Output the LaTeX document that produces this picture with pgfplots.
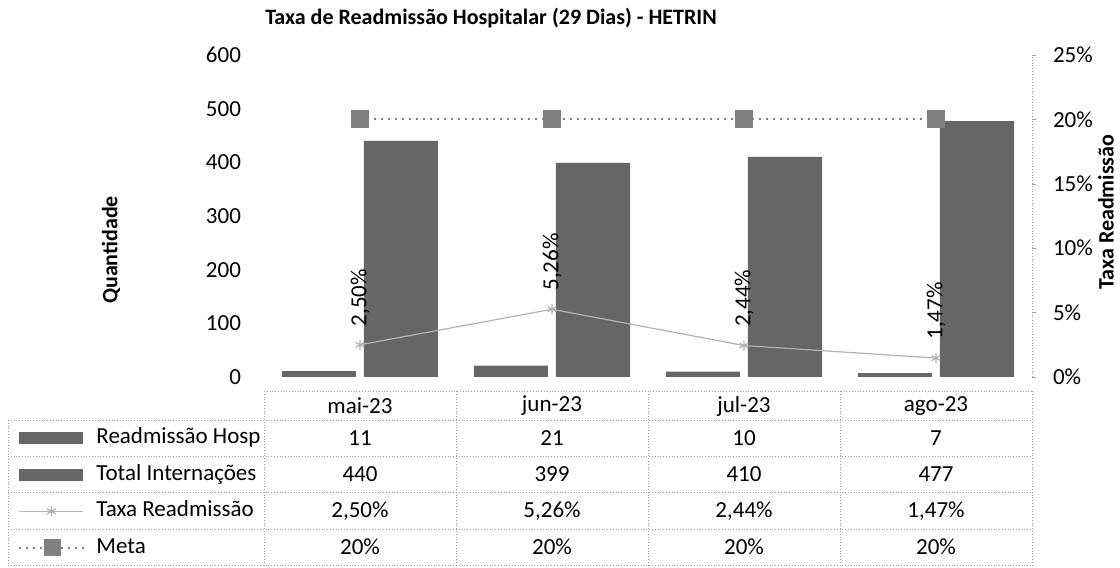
\documentclass[border=0pt]{standalone}
\usepackage{fontspec}
\setmainfont{Carlito}
\usepackage{pgfplots}
\pgfplotsset{compat=1.18}

\definecolor{barfill}{gray}{0.40}
\definecolor{markfill}{gray}{0.50}
\definecolor{gridgray}{gray}{0.62}

\begin{document}
\begin{tikzpicture}
\useasboundingbox (0,0) rectangle (560pt,284pt);

% bars on the left axis
\begin{axis}[at={(132pt,95.5pt)}, anchor=south west, width=384pt, height=161pt, scale only axis,
  xmin=-0.5, xmax=3.5, ymin=0, ymax=600, ytick={0,100,...,600},
  axis x line=none, axis y line*=left, y axis line style={draw=none}, ytick style={draw=none},
  /pgf/number format/assume math mode=true,
  yticklabel style={font=\fontsize{11.5}{13}\selectfont, xshift=-8pt},
  ybar=4pt, bar width=37pt,
  legend cell align=left,
  legend style={at={(axis description cs:-0.3203,-0.1537)}, anchor=north west, draw=none, fill=none,
    inner sep=0pt, row sep=6.75pt, font=\fontsize{11.5}{13}\selectfont,
    nodes={inner sep=0pt, text height=8.5pt, text depth=3pt},
    /tikz/every odd column/.append style={column sep=5pt}}]
\addplot[fill=barfill, draw=none,
  legend image code/.code={\fill[barfill] (0pt,-3pt) rectangle (32pt,3pt);}]
  coordinates {(0,11) (1,21) (2,10) (3,7)};
\addplot[fill=barfill, draw=none,
  legend image code/.code={\fill[barfill] (0pt,-3pt) rectangle (32pt,3pt);}]
  coordinates {(0,440) (1,399) (2,410) (3,477)};
\addlegendimage{legend image code/.code={
  \draw[gray!60, line width=0.6pt] (0pt,0pt) -- (32pt,0pt);
  \draw[gray!60, line width=0.6pt] (16pt,-2.5pt) -- (16pt,2.5pt)
    (13.8pt,-1.25pt) -- (18.2pt,1.25pt) (13.8pt,1.25pt) -- (18.2pt,-1.25pt);}}
\addlegendimage{legend image code/.code={
  \draw[gray, line width=1pt, dash pattern=on 1pt off 2.5pt] (0pt,0pt) -- (33pt,0pt);
  \fill[markfill] (12.5pt,-4pt) rectangle (20.5pt,4pt);}}
\legend{Readmissão Hosp, Total Internações, Taxa Readmissão, Meta}
\end{axis}

% rate and target on the right axis
\begin{axis}[at={(132pt,95.5pt)}, anchor=south west, width=384pt, height=161pt, scale only axis,
  xmin=-0.5, xmax=3.5, ymin=0, ymax=25, ytick={0,5,...,25},
  yticklabels={0\%,5\%,10\%,15\%,20\%,25\%},
  axis x line=none, axis y line*=right, y axis line style={gridgray, densely dotted},
  tick align=outside, major tick length=2pt, ytick style={gridgray},
  yticklabel style={font=\fontsize{11.5}{13}\selectfont, xshift=5pt}]
\addplot[gray!60, line width=0.6pt, mark=asterisk, mark size=2.5pt,
  nodes near coords, point meta=explicit symbolic,
  nodes near coords style={text=black, rotate=90, anchor=west, inner xsep=9pt, inner ysep=0pt,
    font=\fontsize{11.5}{13}\selectfont}]
  coordinates {(0,2.50) [2,50\%] (1,5.26) [5,26\%] (2,2.44) [2,44\%] (3,1.47) [1,47\%]};
\addplot[gray, line width=1pt, dash pattern=on 1pt off 2.5pt, mark=square*, mark size=4pt,
  mark options={solid, fill=markfill, draw=none}]
  coordinates {(0,20) (1,20) (2,20) (3,20)};
\end{axis}

% titles and data table, in pixel units of the reference
\begin{scope}[x=0.5pt, y=-0.5pt, shift={(0pt,284pt)}]
\node[font=\bfseries\fontsize{11}{13}\selectfont] at (491,18) {Taxa de Readmissão Hospitalar (29 Dias) - HETRIN};
\node[rotate=90, inner sep=0pt, font=\bfseries\fontsize{11}{13}\selectfont] at (111,250) {Quantidade};
\node[rotate=90, inner sep=0pt, font=\bfseries\fontsize{11}{13}\selectfont] at (1106,212) {Taxa Readmissão};
\begin{scope}[gridgray, densely dotted, line width=0.4pt]
\draw (264,391) -- (1032,391);
\foreach \y in {420,456,492,529,565} \draw (8,\y) -- (1032,\y);
\draw (8,420) -- (8,565);
\foreach \x in {264,456,648,840,1032} \draw (\x,391) -- (\x,565);
\end{scope}
\foreach \x/\a/\b/\c/\d/\e in {360/mai-23/11/440/{2,50\%}/20\%, 552/jun-23/21/399/{5,26\%}/20\%,
  744/jul-23/10/410/{2,44\%}/20\%, 936/ago-23/7/477/{1,47\%}/20\%} {
  \node[font=\fontsize{11.5}{13}\selectfont] at (\x,406) {\a};
  \node[font=\fontsize{11.5}{13}\selectfont] at (\x,438) {\b};
  \node[font=\fontsize{11.5}{13}\selectfont] at (\x,474) {\c};
  \node[font=\fontsize{11.5}{13}\selectfont] at (\x,511) {\d};
  \node[font=\fontsize{11.5}{13}\selectfont] at (\x,547) {\e};
}
\end{scope}
\end{tikzpicture}
\end{document}
